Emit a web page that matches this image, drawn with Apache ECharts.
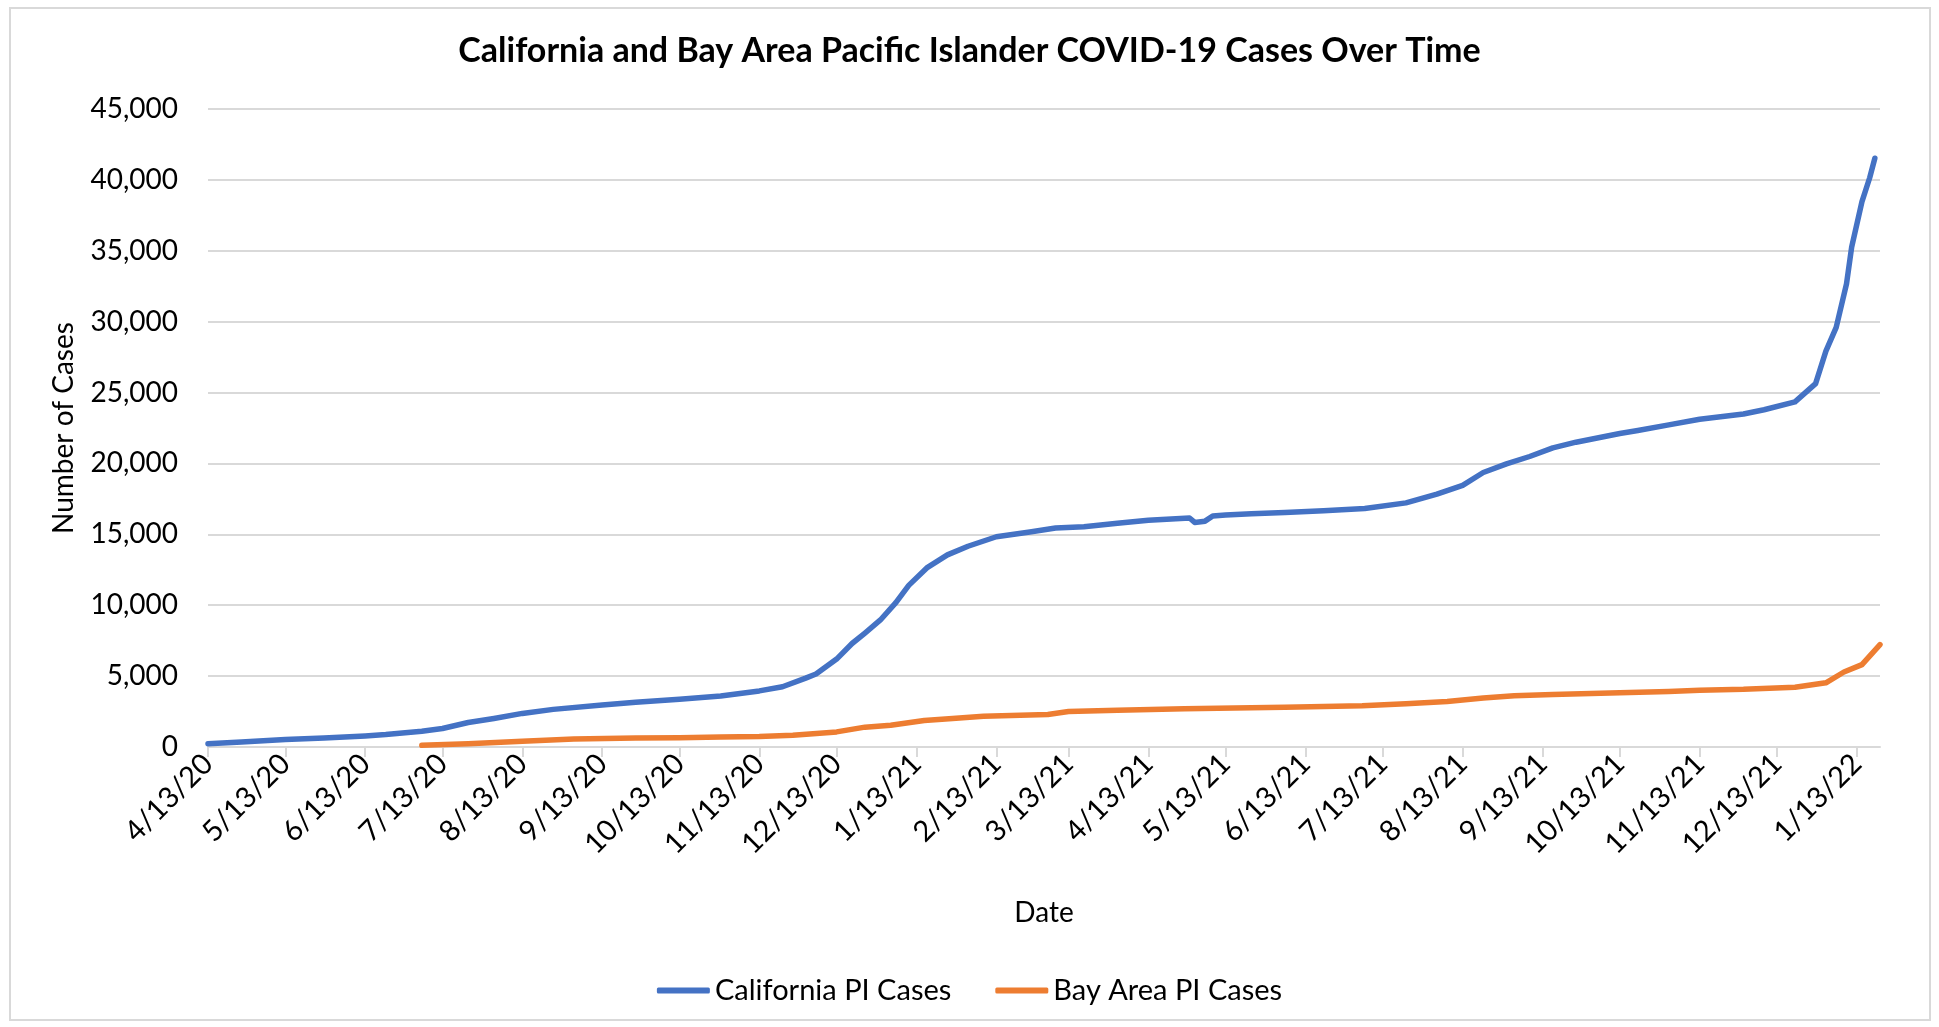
<!DOCTYPE html>
<html>
<head>
<meta charset="utf-8">
<title>California and Bay Area Pacific Islander COVID-19 Cases Over Time</title>
<script src="https://cdn.jsdelivr.net/npm/echarts@6/dist/echarts.min.js"></script>
<style>
  html, body { margin: 0; padding: 0; background: #fff; }
  #chart { width: 1939px; height: 1027px; }
</style>
</head>
<body>
<div id="chart"></div>
<script>
// 读图得到的锚点数据（日期 M/D/YY）
const caDates = ['4/13/20', '4/26/20', '5/13/20', '5/28/20', '6/13/20', '6/21/20', '7/5/20', '7/13/20',
  '7/23/20', '8/2/20', '8/13/20', '8/25/20', '9/13/20', '9/26/20', '10/13/20', '10/29/20', '11/13/20',
  '11/22/20', '12/1/20', '12/5/20', '12/13/20', '12/19/20', '12/24/20', '12/30/20', '1/5/21', '1/10/21',
  '1/17/21', '1/25/21', '2/2/21', '2/13/21', '2/26/21', '3/8/21', '3/19/21', '4/1/21', '4/13/21',
  '4/29/21', '5/1/21', '5/5/21', '5/8/21', '5/13/21', '5/23/21', '6/5/21', '6/20/21', '7/6/21',
  '7/22/21', '8/3/21', '8/13/21', '8/21/21', '8/30/21', '9/8/21', '9/17/21', '9/26/21', '10/13/21',
  '10/20/21', '11/1/21', '11/13/21', '11/30/21', '12/8/21', '12/20/21', '12/28/21', '1/1/22', '1/5/22',
  '1/9/22', '1/11/22', '1/15/22', '1/18/22', '1/20/22']
const caValues = [237, 355, 521, 640, 782, 877, 1114, 1303,
  1730, 2014, 2370, 2654, 2962, 3152, 3365, 3602, 3957,
  4250, 4860, 5150, 6200, 7300, 8040, 8960, 10180, 11400,
  12630, 13550, 14160, 14830, 15170, 15440, 15540, 15780, 15990,
  16150, 15840, 15930, 16300, 16360, 16450, 16540, 16670, 16820,
  17220, 17830, 18450, 19360, 19970, 20490, 21100, 21500, 22110,
  22320, 22720, 23120, 23490, 23790, 24340, 25630, 27920, 29600,
  32660, 35260, 38470, 40150, 41530]

const bayDates = ['7/5/20', '7/23/20', '8/13/20', '9/2/20', '9/26/20', '10/13/20', '10/29/20', '11/13/20',
  '11/26/20', '12/13/20', '12/24/20', '1/3/21', '1/16/21', '1/27/21', '2/8/21', '3/5/21', '3/13/21',
  '4/1/21', '4/27/21', '6/5/21', '7/5/21', '7/22/21', '8/7/21', '8/21/21', '9/2/21', '9/17/21',
  '10/13/21', '11/1/21', '11/13/21', '11/30/21', '12/20/21', '1/1/22', '1/8/22', '1/15/22', '1/22/22']
const bayValues = [118, 237, 403, 569, 640, 650, 711, 735,
  830, 1066, 1400, 1530, 1865, 2018, 2171, 2294, 2508,
  2600, 2690, 2800, 2905, 3058, 3211, 3456, 3610, 3700,
  3820, 3910, 4006, 4067, 4220, 4530, 5290, 5810, 7220]

// x 轴类目：逐日日期
const firstDay = Date.UTC(2020, 3, 13)
const lastDay = Date.UTC(2022, 0, 22)
const days = []
for (let t = firstDay; t <= lastDay; t += 86400000) {
  const d = new Date(t)
  days.push(`${d.getUTCMonth() + 1}/${d.getUTCDate()}/${String(d.getUTCFullYear()).slice(2)}`)
}

const FONT = 'Lato'
const isTickDay = (index, value) => value.split('/')[1] === '13'

const chart = echarts.init(document.getElementById('chart'))

chart.setOption({
  backgroundColor: '#fff',
  animation: false,
  title: {
    text: 'California and Bay Area Pacific Islander COVID-19 Cases Over Time',
    left: 'center',
    top: 29,
    textStyle: { fontFamily: FONT, fontSize: 34, fontWeight: 'bold', color: '#000' }
  },
  legend: {
    left: 'center',
    top: 971,
    icon: 'roundRect',
    itemWidth: 53,
    itemHeight: 6,
    itemGap: 44,
    textStyle: { fontFamily: FONT, fontSize: 29, color: '#000' },
    data: ['California PI Cases', 'Bay Area PI Cases']
  },
  grid: { left: 208, right: 59, top: 109, bottom: 280, containLabel: false },
  xAxis: {
    type: 'category',
    data: days,
    boundaryGap: false,
    name: 'Date',
    nameLocation: 'middle',
    nameGap: 152,
    nameTextStyle: { fontFamily: FONT, fontSize: 28, color: '#000' },
    axisLine: { lineStyle: { color: '#D9D9D9', width: 2 } },
    axisTick: { show: true, interval: isTickDay, length: 10, lineStyle: { color: '#D9D9D9', width: 2 } },
    axisLabel: {
      interval: isTickDay,
      rotate: 45,
      margin: 12,
      fontFamily: FONT,
      fontSize: 29,
      color: '#000'
    },
    splitLine: { show: false }
  },
  yAxis: {
    type: 'value',
    min: 0,
    max: 45000,
    interval: 5000,
    name: 'Number of Cases',
    nameLocation: 'middle',
    nameGap: 130,
    nameTextStyle: { fontFamily: FONT, fontSize: 28, color: '#000' },
    axisLine: { show: false },
    axisTick: { show: false },
    axisLabel: {
      margin: 30,
      fontFamily: FONT,
      fontSize: 28,
      color: '#000',
      formatter: v => v.toLocaleString('en-US')
    },
    splitLine: { lineStyle: { color: '#D9D9D9', width: 2 } }
  },
  series: [
    {
      name: 'California PI Cases',
      type: 'line',
      data: caDates.map((d, i) => [d, caValues[i]]),
      showSymbol: false,
      symbol: 'none',
      smooth: false,
      itemStyle: { color: '#4472C4' },
      lineStyle: { color: '#4472C4', width: 5.5, cap: 'round', join: 'round' }
    },
    {
      name: 'Bay Area PI Cases',
      type: 'line',
      data: bayDates.map((d, i) => [d, bayValues[i]]),
      showSymbol: false,
      symbol: 'none',
      smooth: false,
      itemStyle: { color: '#ED7D31' },
      lineStyle: { color: '#ED7D31', width: 5.5, cap: 'round', join: 'round' }
    }
  ],
  graphic: [
    {
      type: 'rect',
      shape: { x: 10, y: 8, width: 1920, height: 1012 },
      style: { fill: 'none', stroke: '#D9D9D9', lineWidth: 2 },
      silent: true,
      z: -1
    }
  ]
})
</script>
</body>
</html>
